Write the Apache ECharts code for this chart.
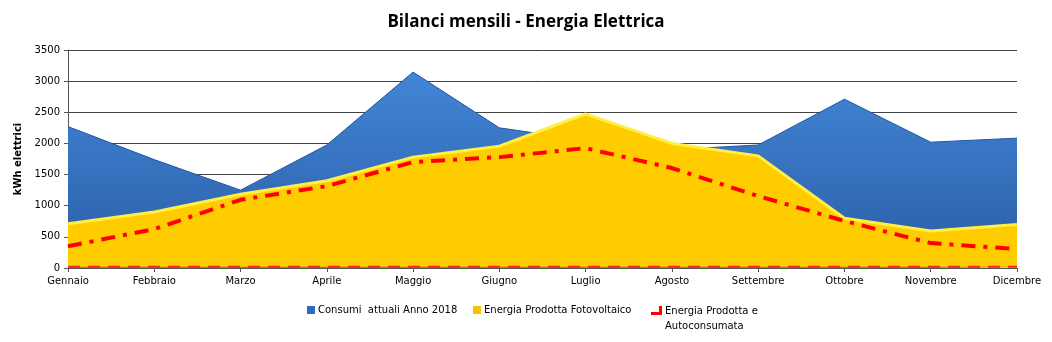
<!DOCTYPE html>
<html><head><meta charset="utf-8">
<script src="https://cdn.jsdelivr.net/npm/echarts@6/dist/echarts.min.js"></script>
<style>html,body{margin:0;padding:0;background:#fff}#c{width:1052px;height:342px}</style>
</head><body><div id="c"></div>
<script>
const categories = ['Gennaio','Febbraio','Marzo','Aprile','Maggio','Giugno','Luglio','Agosto','Settembre','Ottobre','Novembre','Dicembre'];
const consumi = [2270, 1740, 1250, 1975, 3145, 2250, 2050, 1900, 1975, 2710, 2020, 2085];
const fotovoltaico = [710, 900, 1185, 1400, 1780, 1955, 2475, 2000, 1800, 800, 595, 700];
const autoconsumata = [350, 625, 1095, 1315, 1700, 1780, 1925, 1605, 1155, 755, 400, 305];
const baseline = [20, 20, 20, 20, 20, 20, 20, 20, 20, 20, 20, 20];
const yTicks = [0, 500, 1000, 1500, 2000, 2500, 3000, 3500];

const FONT = 'DejaVu Sans';
const chart = echarts.init(document.getElementById('c'));
chart.setOption({
  animation: false,
  title: {
    text: 'Bilanci mensili - Energia Elettrica',
    left: 'center', top: 9,
    textStyle: { fontFamily: 'Open Sans', fontWeight: 'bold', fontSize: 17, color: '#000' }
  },
  legend: [
    { data: ['Consumi  attuali Anno 2018'], left: 302, top: 300, itemWidth: 8, itemHeight: 8, itemGap: 4, icon: 'rect',
      textStyle: { fontFamily: FONT, fontSize: 10, color: '#000', padding: [0,0,0,-2] } },
    { data: ['Energia Prodotta Fotovoltaico'], left: 468, top: 300, itemWidth: 8, itemHeight: 8, icon: 'rect',
      textStyle: { fontFamily: FONT, fontSize: 10, color: '#000', padding: [0,0,0,-2] } },
    { data: ['Energia Prodotta e\nAutoconsumata'], left: 646, top: 299, itemWidth: 11, itemHeight: 26,
      icon: 'path://M8,0 L11,0 L11,9 L0,9 L0,6 L8,6 Z M0,26 L0.01,26 L0,26.01 Z',
      textStyle: { fontFamily: FONT, fontSize: 10, color: '#000', lineHeight: 15, padding: [0,0,0,-2] } }
  ],
  grid: { left: 68, right: 35, top: 50, bottom: 74 },
  xAxis: {
    type: 'category', data: categories, boundaryGap: false,
    axisLine: { lineStyle: { color: '#555', width: 1 } },
    axisTick: { show: true, length: 4, lineStyle: { color: '#555' } },
    axisLabel: { fontFamily: FONT, fontSize: 10, color: '#000', margin: 8 }
  },
  yAxis: {
    type: 'value', min: yTicks[0], max: yTicks[yTicks.length-1], interval: 500,
    name: 'kWh elettrici', nameLocation: 'middle', nameGap: 31, nameRotate: 90,
    nameTextStyle: { fontFamily: FONT, fontSize: 10, fontWeight: 'bold', color: '#000' },
    axisLine: { show: true, lineStyle: { color: '#555' } },
    axisTick: { show: true, length: 4, lineStyle: { color: '#555' } },
    axisLabel: { fontFamily: FONT, fontSize: 10, color: '#000', margin: 8, formatter: v => String(v) },
    splitLine: { lineStyle: { color: '#444', width: 1 } }
  },
  series: [
    { name: 'Consumi  attuali Anno 2018', type: 'line', data: consumi, symbol: 'none',
      itemStyle: { color: '#2f6bbd' },
      lineStyle: { color: '#1f55a8', width: 1 },
      areaStyle: { opacity: 1, color: new echarts.graphic.LinearGradient(0,0,0,1,[{offset:0,color:'#4286d6'},{offset:1,color:'#2a5da6'}]) },
      z: 1 },
    { name: 'Energia Prodotta Fotovoltaico', type: 'line', data: fotovoltaico, symbol: 'none',
      itemStyle: { color: '#f5c400' },
      lineStyle: { color: '#ffee44', width: 3 },
      areaStyle: { opacity: 1, color: '#ffcc00' },
      z: 2 },
    { name: 'Energia Prodotta e\nAutoconsumata', type: 'line', data: autoconsumata, symbol: 'none',
      itemStyle: { color: '#ff0000', borderWidth: 0 },
      lineStyle: { color: '#ff0000', width: 4, type: [14, 8, 4, 8] },
      z: 3 },
    { name: 'base', type: 'line', data: baseline, symbol: 'none', silent: true,
      lineStyle: { color: '#ff2020', width: 2, type: [12, 8] },
      areaStyle: { opacity: 1, color: '#9a8a20' },
      z: 3 }
  ]
});
</script></body></html>
